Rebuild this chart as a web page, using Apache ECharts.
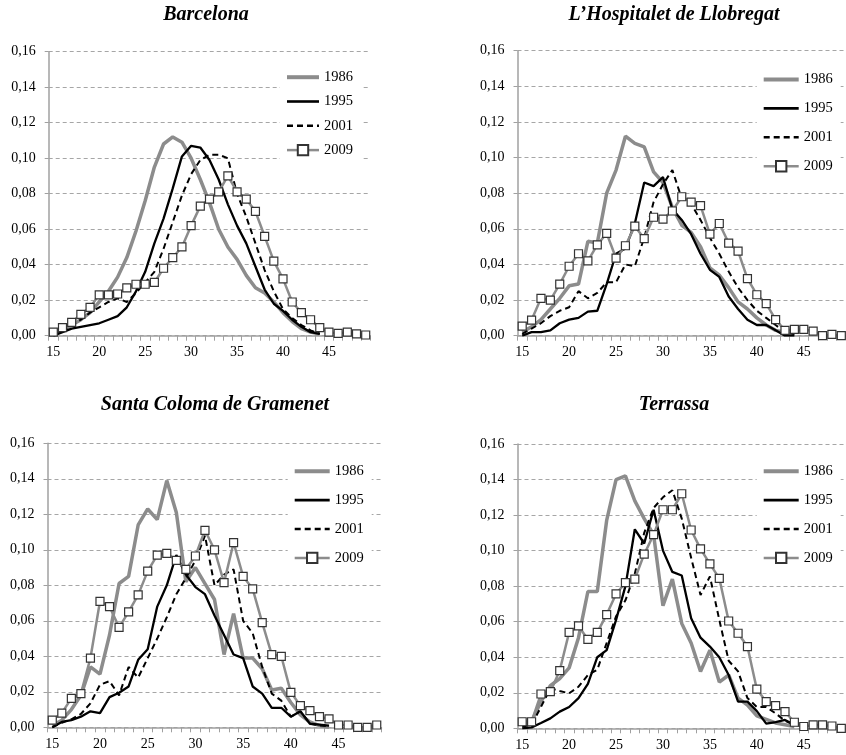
<!DOCTYPE html>
<html>
<head>
<meta charset="utf-8">
<script src="https://cdn.jsdelivr.net/npm/echarts@6/dist/echarts.min.js"></script>
<style>
  html, body { margin: 0; padding: 0; background: #fff; }
  #chart { width: 846px; height: 755px; }
</style>
</head>
<body>
<div id="chart"></div>
<script>
  // edades (categorías del eje X)
  const ages = ['15','16','17','18','19','20','21','22','23','24','25','26','27','28','29','30','31','32',
                '33','34','35','36','37','38','39','40','41','42','43','44','45','46','47','48','49'];
  const years = ['1986', '1995', '2001', '2009'];
  const titles = ['Barcelona', 'L\u2019Hospitalet de Llobregat', 'Santa Coloma de Gramenet', 'Terrassa'];
  const yTicks = [0, 0.02, 0.04, 0.06, 0.08, 0.10, 0.12, 0.14, 0.16];

  // Barcelona
  const bcn1986 = [0.000, 0.003, 0.006, 0.009, 0.013, 0.019, 0.025, 0.033, 0.044, 0.059, 0.076, 0.095, 0.108, 0.112, 0.109,
                   0.100, 0.088, 0.075, 0.060, 0.050, 0.043, 0.034, 0.027, 0.024, 0.019, 0.013, 0.008, 0.004, 0.002, 0.001];
  const bcn1995 = [0.000, 0.002, 0.004, 0.005, 0.006, 0.007, 0.009, 0.011, 0.016, 0.025, 0.036, 0.052, 0.066, 0.083, 0.101,
                   0.107, 0.106, 0.099, 0.088, 0.074, 0.062, 0.052, 0.039, 0.026, 0.018, 0.014, 0.009, 0.005, 0.002, 0.001];
  const bcn2001 = [0.000, 0.003, 0.006, 0.009, 0.013, 0.016, 0.019, 0.021, 0.019, 0.024, 0.030, 0.036, 0.049, 0.064, 0.079,
                   0.091, 0.099, 0.102, 0.102, 0.100, 0.080, 0.067, 0.052, 0.037, 0.025, 0.015, 0.010, 0.006, 0.003, 0.001];
  const bcn2009 = [0.002, 0.0045, 0.0075, 0.012, 0.016, 0.023, 0.023, 0.0235, 0.027, 0.029, 0.029, 0.030, 0.038, 0.044, 0.050,
                   0.062, 0.073, 0.077, 0.081, 0.090, 0.081, 0.077, 0.070, 0.056, 0.042, 0.032, 0.019, 0.013, 0.009, 0.0045,
                   0.002, 0.0013, 0.002, 0.001, 0.0004];

  // L'Hospitalet de Llobregat
  const hos1986 = [0.002, 0.005, 0.009, 0.015, 0.021, 0.028, 0.029, 0.053, 0.052, 0.080, 0.093, 0.112, 0.108, 0.106, 0.092,
                   0.086, 0.072, 0.062, 0.058, 0.050, 0.038, 0.034, 0.027, 0.019, 0.015, 0.010, 0.006, 0.003, 0.002, 0.001];
  const hos1995 = [0.000, 0.002, 0.002, 0.003, 0.007, 0.009, 0.010, 0.0135, 0.014, 0.029, 0.046, 0.049, 0.063, 0.086, 0.084,
                   0.089, 0.071, 0.065, 0.057, 0.046, 0.037, 0.033, 0.022, 0.015, 0.009, 0.006, 0.006, 0.003, 0.000, 0.000];
  const hos2001 = [0.001, 0.004, 0.007, 0.011, 0.014, 0.016, 0.025, 0.021, 0.024, 0.030, 0.030, 0.040, 0.039, 0.055, 0.075,
                   0.085, 0.093, 0.077, 0.074, 0.065, 0.055, 0.046, 0.036, 0.027, 0.020, 0.014, 0.010, 0.006, 0.002, 0.001];
  const hos2009 = [0.0054, 0.0088, 0.021, 0.020, 0.029, 0.039, 0.046, 0.042, 0.051, 0.0575, 0.0435, 0.0505, 0.0615, 0.0545, 0.0665,
                   0.0655, 0.070, 0.078, 0.075, 0.073, 0.057, 0.063, 0.052, 0.0475, 0.032, 0.023, 0.018, 0.009, 0.003, 0.0035,
                   0.0035, 0.0026, 0.000, 0.0007, 0.000];

  // Santa Coloma de Gramenet
  const sco1986 = [0.001, 0.004, 0.010, 0.018, 0.034, 0.030, 0.052, 0.081, 0.085, 0.114, 0.123, 0.117, 0.139, 0.121, 0.082,
                   0.090, 0.081, 0.072, 0.041, 0.064, 0.039, 0.039, 0.033, 0.021, 0.022, 0.014, 0.007, 0.003, 0.001, 0.000];
  const sco1995 = [0.000, 0.003, 0.004, 0.006, 0.009, 0.008, 0.017, 0.0195, 0.023, 0.038, 0.044, 0.068, 0.080, 0.097, 0.086,
                   0.079, 0.075, 0.063, 0.052, 0.041, 0.039, 0.023, 0.019, 0.011, 0.011, 0.006, 0.009, 0.002, 0.0015, 0.001];
  const sco2001 = [0.000, 0.0026, 0.0045, 0.0075, 0.0135, 0.024, 0.026, 0.018, 0.034, 0.028, 0.039, 0.050, 0.062, 0.075, 0.084,
                   0.094, 0.108, 0.080, 0.086, 0.089, 0.060, 0.053, 0.034, 0.019, 0.015, 0.006, 0.009, 0.002, 0.001, 0.0005];
  const sco2009 = [0.004, 0.008, 0.0163, 0.019, 0.039, 0.071, 0.068, 0.0563, 0.065, 0.0746, 0.088, 0.097, 0.098, 0.094, 0.089,
                   0.0965, 0.111, 0.100, 0.0815, 0.104, 0.085, 0.078, 0.059, 0.041, 0.040, 0.0197, 0.0122, 0.0094, 0.006, 0.0047,
                   0.0013, 0.0013, 0.000, 0.000, 0.0013];

  // Terrassa
  const ter1986 = [0.003, 0.004, 0.015, 0.024, 0.028, 0.034, 0.051, 0.077, 0.077, 0.117, 0.140, 0.142, 0.128, 0.118, 0.109,
                   0.069, 0.084, 0.059, 0.048, 0.032, 0.044, 0.026, 0.030, 0.017, 0.013, 0.007, 0.005, 0.003, 0.002, 0.001];
  const ter1995 = [0.000, 0.0005, 0.003, 0.0056, 0.0094, 0.012, 0.017, 0.025, 0.040, 0.044, 0.061, 0.080, 0.112, 0.104, 0.123,
                   0.100, 0.088, 0.086, 0.062, 0.051, 0.046, 0.040, 0.030, 0.015, 0.015, 0.0097, 0.0026, 0.0035, 0.0047, 0.002];
  const ter2001 = [0.001, 0.002, 0.012, 0.0225, 0.021, 0.0197, 0.0234, 0.030, 0.033, 0.048, 0.063, 0.072, 0.087, 0.110, 0.124,
                   0.130, 0.134, 0.118, 0.096, 0.075, 0.0855, 0.061, 0.038, 0.032, 0.017, 0.012, 0.012, 0.0084, 0.0042, 0.002, 0.001];
  const ter2009 = [0.0037, 0.0037, 0.0193, 0.0206, 0.0325, 0.054, 0.0576, 0.050, 0.054, 0.064, 0.0756, 0.082, 0.084, 0.098, 0.109,
                   0.123, 0.123, 0.132, 0.1116, 0.101, 0.0925, 0.0844, 0.0604, 0.0535, 0.046, 0.022, 0.015, 0.0128, 0.0094, 0.0034,
                   0.001, 0.0019, 0.0019, 0.0013, 0.000];

  const serifFont = '"Liberation Serif", "DejaVu Serif", serif';
  const axisGray = '#a0a0a0';

  // posición de cada panel (grid, título, leyenda)
  const panels = [
    { data: [bcn1986, bcn1995, bcn2001, bcn2009], grid: { left: 48.7, right: 475.7, top: 51.7, bottom: 419.3 },
      titleX: 206, titleY: 15, legend: { left: 280, top: 64.7, itemGap: 9.3, itemWidth: 32 } },
    { data: [hos1986, hos1995, hos2001, hos2009], grid: { left: 517.5, right: -5, top: 50.7, bottom: 419.3 },
      titleX: 674, titleY: 15, legend: { left: 756.7, top: 67, itemGap: 13.9, itemWidth: 35 } },
    { data: [sco1986, sco1995, sco2001, sco2009], grid: { left: 47.5, right: 464.5, top: 443.3, bottom: 27.7 },
      titleX: 215, titleY: 405, legend: { left: 287.7, top: 458.7, itemGap: 13.9, itemWidth: 35 } },
    { data: [ter1986, ter1995, ter2001, ter2009], grid: { left: 517.5, right: -5, top: 444, bottom: 26.7 },
      titleX: 674, titleY: 405, legend: { left: 756.7, top: 458.7, itemGap: 13.9, itemWidth: 35 } }
  ];

  // estilo de cada año
  const seriesStyles = [
    { symbol: 'none', lineStyle: { color: '#8c8c8c', width: 3.5 }, itemStyle: { color: '#8c8c8c' } },
    { symbol: 'none', lineStyle: { color: '#000', width: 2.3 }, itemStyle: { color: '#000' } },
    { symbol: 'none', lineStyle: { color: '#000', width: 2, type: [6, 4] }, itemStyle: { color: '#000' } },
    { symbol: 'rect', symbolSize: 8, showAllSymbol: true, lineStyle: { color: '#8c8c8c', width: 2.5 },
      itemStyle: { color: '#fff', borderColor: '#333', borderWidth: 1.2 } }
  ];

  // en la leyenda sólo la 2009 lleva marcador; grosor de línea como en la serie
  const legendWidths = [4, 2.6, 2.6, 2.5];
  const legendItems = years.map((yr, k) => k < 3
    ? { name: yr, itemStyle: { opacity: 0 }, lineStyle: { width: legendWidths[k] } }
    : { name: yr, lineStyle: { width: legendWidths[k] } });

  const grids = [], xAxes = [], yAxes = [], legends = [], series = [], graphics = [];

  panels.forEach((p, idx) => {
    grids.push(Object.assign({ containLabel: false }, p.grid));

    xAxes.push({
      type: 'category',
      gridIndex: idx,
      data: ages,
      boundaryGap: true,
      axisLine: { lineStyle: { color: axisGray, width: 1.5 } },
      axisTick: { show: true, interval: 0, length: 5, lineStyle: { color: axisGray } },
      axisLabel: { interval: 4, margin: 10, color: '#000', fontSize: 14, fontFamily: serifFont },
      splitLine: { show: false }
    });

    yAxes.push({
      type: 'value',
      gridIndex: idx,
      min: yTicks[0],
      max: yTicks[yTicks.length - 1],
      interval: 0.02,
      axisLine: { show: true, lineStyle: { color: axisGray, width: 1.5 } },
      axisTick: { show: true, length: 4, lineStyle: { color: axisGray } },
      axisLabel: {
        margin: 13, color: '#000', fontSize: 14, fontFamily: serifFont,
        formatter: v => v.toFixed(2).replace('.', ',')
      },
      splitLine: { lineStyle: { color: '#a6a6a6', width: 1, type: [4, 3] } }
    });

    legends.push({
      orient: 'vertical',
      left: p.legend.left,
      top: p.legend.top,
      itemGap: p.legend.itemGap,
      itemWidth: p.legend.itemWidth,
      itemHeight: 13,
      padding: [5, 8, 5, 5],
      backgroundColor: '#fff',
      selectedMode: false,
      data: legendItems,
      textStyle: { color: '#000', fontSize: 14.5, fontFamily: serifFont }
    });

    years.forEach((yr, k) => {
      series.push(Object.assign({
        name: yr,
        type: 'line',
        xAxisIndex: idx,
        yAxisIndex: idx,
        data: p.data[k],
        z: 2 + k
      }, seriesStyles[k]));
    });

    graphics.push({
      type: 'text',
      x: p.titleX,
      y: p.titleY,
      style: {
        text: titles[idx],
        textAlign: 'center',
        textVerticalAlign: 'middle',
        fill: '#000',
        font: 'italic bold 20px ' + serifFont
      }
    });
  });

  const myChart = echarts.init(document.getElementById('chart'));
  myChart.setOption({
    animation: false,
    backgroundColor: '#fff',
    grid: grids,
    xAxis: xAxes,
    yAxis: yAxes,
    legend: legends,
    series: series,
    graphic: graphics
  });
</script>
</body>
</html>
